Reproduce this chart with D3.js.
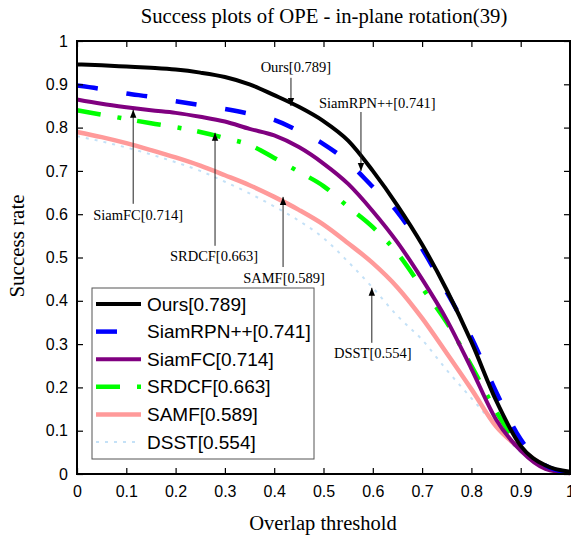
<!DOCTYPE html>
<html>
  <head>
    <script src="https://cdn.jsdelivr.net/npm/d3@7/dist/d3.min.js" charset="utf-8"></script>
    <style>
      body { margin: 0; background: #fff; }
    </style>
  </head>
  <body>
    <svg id="chart" width="571" height="542"></svg>
    <script>
      // overlap thresholds
      var thresholds = [0, 0.05, 0.1, 0.15, 0.2, 0.25, 0.3, 0.35, 0.4, 0.45, 0.5,
                        0.55, 0.6, 0.65, 0.7, 0.75, 0.8, 0.85, 0.9, 0.95, 1];

      var ours     = [0.946, 0.944, 0.941, 0.938, 0.934, 0.927, 0.917, 0.900, 0.875, 0.848, 0.815,
                      0.770, 0.700, 0.620, 0.530, 0.425, 0.305, 0.170, 0.065, 0.020, 0.005];
      var siamrpn  = [0.897, 0.889, 0.879, 0.871, 0.861, 0.852, 0.843, 0.832, 0.818, 0.792, 0.762,
                      0.720, 0.663, 0.605, 0.520, 0.420, 0.315, 0.190, 0.080, 0.020, 0.003];
      var siamfc   = [0.865, 0.855, 0.847, 0.840, 0.834, 0.825, 0.814, 0.797, 0.782, 0.755, 0.717,
                      0.670, 0.607, 0.535, 0.450, 0.356, 0.243, 0.126, 0.054, 0.012, 0.002];
      var srdcf    = [0.840, 0.830, 0.820, 0.810, 0.801, 0.790, 0.776, 0.760, 0.730, 0.698, 0.665,
                      0.617, 0.570, 0.510, 0.430, 0.350, 0.250, 0.145, 0.060, 0.015, 0.002];
      var samf     = [0.790, 0.778, 0.764, 0.748, 0.731, 0.712, 0.690, 0.667, 0.640, 0.610, 0.576,
                      0.533, 0.487, 0.431, 0.360, 0.279, 0.196, 0.110, 0.058, 0.018, 0.002];
      var dsst     = [0.780, 0.768, 0.754, 0.738, 0.720, 0.700, 0.675, 0.648, 0.618, 0.585, 0.545,
                      0.490, 0.430, 0.365, 0.310, 0.240, 0.175, 0.110, 0.050, 0.015, 0.000];

      var names  = ["Ours[0.789]", "SiamRPN++[0.741]", "SiamFC[0.714]", "SRDCF[0.663]", "SAMF[0.589]", "DSST[0.554]"];
      var series = [ours, siamrpn, siamfc, srdcf, samf, dsst];
      var ticks  = [0, 0.1, 0.2, 0.3, 0.4, 0.5, 0.6, 0.7, 0.8, 0.9, 1];

      // annotations: text position and arrow (start -> tip) in data units
      var notes = [
        {text: "Ours[0.789]",      tx: 0.444, ty: 0.928, ax: 0.434, a0: 0.915, a1: 0.850},
        {text: "SiamRPN++[0.741]", tx: 0.609, ty: 0.845, ax: 0.576, a0: 0.836, a1: 0.700},
        {text: "SiamFC[0.714]",    tx: 0.124, ty: 0.587, ax: 0.114, a0: 0.624, a1: 0.841},
        {text: "SRDCF[0.663]",     tx: 0.278, ty: 0.492, ax: 0.280, a0: 0.527, a1: 0.788},
        {text: "SAMF[0.589]",      tx: 0.420, ty: 0.441, ax: 0.418, a0: 0.478, a1: 0.640},
        {text: "DSST[0.554]",      tx: 0.600, ty: 0.268, ax: 0.598, a0: 0.303, a1: 0.430}
      ];

      var styles = [
        {color: "#000000", width: 4,   dash: null},
        {color: "#0000ff", width: 4.5, dash: "21,29"},
        {color: "#800080", width: 4,   dash: null},
        {color: "#00ff00", width: 4.5, dash: "24,17,4,16"},
        {color: "#ff9a9a", width: 4.5, dash: null},
        {color: "#c4e1f7", width: 2,   dash: "3,6"}
      ];

      var svg = d3.select("#chart");
      var x = d3.scaleLinear().domain([0, 1]).range([77, 570]);
      var y = d3.scaleLinear().domain([0, 1]).range([474, 41]);

      var serif = "'Liberation Serif', 'Times New Roman', serif";
      var sans = "'Liberation Sans', Arial, sans-serif";

      // title
      svg.append("text").attr("x", 324).attr("y", 23).attr("text-anchor", "middle")
        .style("font-family", serif).style("font-size", "20.7px")
        .text("Success plots of OPE - in-plane rotation(39)");

      svg.append("text").attr("x", 323).attr("y", 530).attr("text-anchor", "middle")
        .style("font-family", serif).style("font-size", "20.5px")
        .text("Overlap threshold");

      svg.append("text").attr("transform", "translate(24,246) rotate(-90)").attr("text-anchor", "middle")
        .style("font-family", serif).style("font-size", "21px")
        .text("Success rate");

      // curves (drawn bottom series first so Ours ends on top)
      var line = d3.line().x((d, i) => x(thresholds[i])).y(d => y(d)).curve(d3.curveMonotoneX);
      var order = [5, 4, 3, 2, 1, 0];
      svg.append("g").selectAll("path").data(order).enter().append("path")
        .attr("fill", "none")
        .attr("stroke", i => styles[i].color)
        .attr("stroke-width", i => styles[i].width)
        .attr("stroke-dasharray", i => styles[i].dash)
        .attr("d", i => line(series[i]));

      // axes with inward ticks
      function fmt(d) { return d3.format("~g")(d); }
      svg.append("g").attr("transform", "translate(0,474)")
        .call(d3.axisBottom(x).tickValues(ticks).tickFormat(fmt).tickSizeInner(-6).tickSizeOuter(0).tickPadding(12));
      svg.append("g").attr("transform", "translate(77,0)")
        .call(d3.axisLeft(y).tickValues(ticks).tickFormat(fmt).tickSizeInner(-6).tickSizeOuter(0).tickPadding(9));
      svg.append("g").attr("transform", "translate(0,41)")
        .call(d3.axisTop(x).tickValues(ticks).tickFormat("").tickSizeInner(-6).tickSizeOuter(0));
      svg.append("g").attr("transform", "translate(570,0)")
        .call(d3.axisRight(y).tickValues(ticks).tickFormat("").tickSizeInner(-6).tickSizeOuter(0));
      svg.selectAll(".domain").remove();
      svg.selectAll(".tick line").attr("stroke", "#000").attr("stroke-width", 1.2);
      svg.selectAll(".tick text").style("font-family", sans).style("font-size", "16px").attr("fill", "#000");

      svg.append("rect").attr("x", 77).attr("y", 41).attr("width", 493).attr("height", 433)
        .attr("fill", "none").attr("stroke", "#000").attr("stroke-width", 2);

      // annotations
      svg.append("defs").append("marker").attr("id", "head")
        .attr("viewBox", "0 0 10 10").attr("refX", 10).attr("refY", 5)
        .attr("markerUnits", "userSpaceOnUse").attr("markerWidth", 10).attr("markerHeight", 8)
        .attr("orient", "auto")
        .append("path").attr("d", "M0,1 L10,5 L0,9 Z").attr("fill", "#000");

      var ann = svg.append("g").selectAll("g").data(notes).enter().append("g");
      ann.append("line")
        .attr("x1", d => x(d.ax)).attr("x2", d => x(d.ax))
        .attr("y1", d => y(d.a0)).attr("y2", d => y(d.a1))
        .attr("stroke", "#222").attr("stroke-width", 1)
        .attr("marker-end", "url(#head)");
      ann.append("text").attr("x", d => x(d.tx)).attr("y", d => y(d.ty))
        .attr("text-anchor", "middle")
        .style("font-family", serif).style("font-size", "14.5px")
        .text(d => d.text);

      // legend
      var lg = svg.append("g");
      lg.append("rect").attr("x", 92).attr("y", 288).attr("width", 222).attr("height", 171)
        .attr("fill", "#fff").attr("stroke", "#555").attr("stroke-width", 1);
      var rows = lg.selectAll("g").data(names).enter().append("g")
        .attr("transform", (d, i) => "translate(0," + (304 + i * 27.6) + ")");
      rows.append("line").attr("x1", 96).attr("x2", 141).attr("y1", 0).attr("y2", 0)
        .attr("stroke", (d, i) => styles[i].color)
        .attr("stroke-width", (d, i) => styles[i].width)
        .attr("stroke-dasharray", (d, i) => styles[i].dash);
      rows.append("text").attr("x", 147).attr("y", 0).attr("dy", "0.35em")
        .style("font-family", sans).style("font-size", "19px")
        .text(d => d);
    </script>
  </body>
</html>
